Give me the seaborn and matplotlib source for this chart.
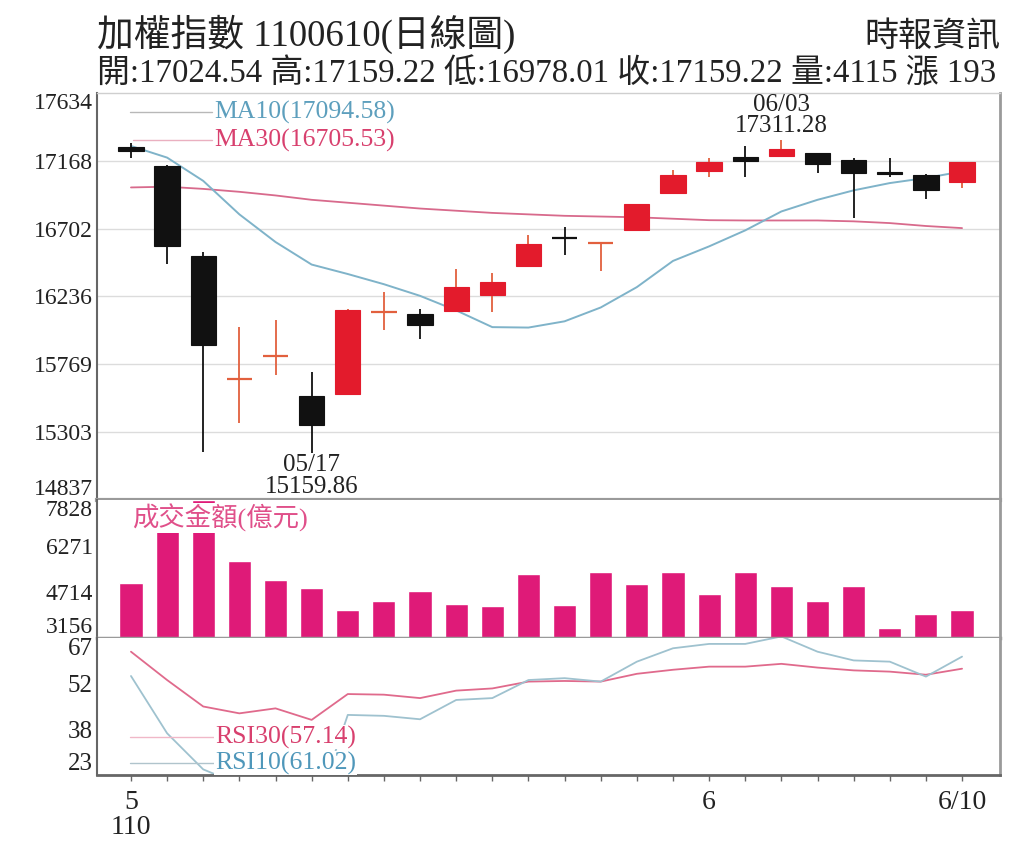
import numpy as np
import pandas as pd
import matplotlib
matplotlib.use('Agg')
import matplotlib.pyplot as plt
import seaborn as sns

# ---------------- data ----------------
days = ['05/10', '05/11', '05/12', '05/13', '05/14', '05/17', '05/18', '05/19',
        '05/20', '05/21', '05/24', '05/25', '05/26', '05/27', '05/28', '05/31',
        '06/01', '06/02', '06/03', '06/04', '06/07', '06/08', '06/09', '06/10']
opens = [17264, 17131, 16513, 15660, 15815, 15550, 15564, 16120, 16114, 16135, 16249, 16444,
         16645, 16590, 16692, 16948, 17097, 17191, 17202, 17219, 17173, 17092, 17070, 17024.54]
highs = [17292, 17140, 16542, 16027, 16073, 15717, 16150, 16267, 16148, 16423, 16398, 16657,
         16714, 16596, 16872, 17104, 17184, 17269, 17311.28, 17219, 17184, 17184, 17076, 17159.22]
lows = [17185, 16458, 15165, 15366, 15695, 15159.86, 15560, 16004, 15940, 16135, 16130, 16444,
        16520, 16410, 16692, 16939, 17054, 17054, 17202, 17081, 16772, 17054, 16903, 16978.01]
closes = [17236, 16583, 15902, 15670, 15827, 15354, 16146, 16130, 16040, 16302, 16338, 16595,
          16640, 16601, 16871, 17068, 17162, 17165, 17246, 17147, 17084, 17076, 16966, 17159.22]
ma10 = [17270, 17190, 17030, 16800, 16610, 16455, 16390, 16320, 16240, 16140, 16025, 16022,
        16065, 16160, 16300, 16480, 16580, 16690, 16820, 16900, 16965, 17015, 17050, 17094.58]
ma30 = [16985, 16990, 16975, 16955, 16930, 16900, 16880, 16860, 16840, 16825, 16810, 16800,
        16790, 16785, 16780, 16770, 16760, 16758, 16758, 16758, 16752, 16740, 16720, 16705.53]
turnover = [5013, 7300, 7828, 5755, 5126, 4841, 4119, 4404, 4758, 4301, 4256, 5332,
            4267, 5401, 4978, 5401, 4634, 5401, 4920, 4404, 4920, 3486, 3981, 4115]
rsi30 = [62.6, 53.5, 45.0, 42.8, 44.4, 40.7, 49.0, 48.8, 47.7, 50.1, 50.8, 53.0,
         53.2, 53.0, 55.5, 56.8, 57.8, 57.8, 58.7, 57.5, 56.6, 56.2, 55.2, 57.14]
rsi10 = [54.8, 36.4, 24.8, 20.0, 21.0, 8.0, 42.3, 42.0, 40.9, 47.1, 47.7, 53.5,
         54.1, 53.0, 59.4, 63.7, 65.1, 65.1, 67.5, 62.6, 59.8, 59.4, 54.6, 61.02]

price_ticks = [14837, 15303, 15769, 16236, 16702, 17168, 17634]
vol_ticks = [3156, 4714, 6271, 7828]
rsi_ticks = [23, 37.67, 52.33, 67]
rsi_tick_labels = ['23', '38', '52', '67']
x_tick_pos = [0, 16, 23]
x_tick_labels = ['5\n110', '6', '6/10']

title = '加權指數 1100610(日線圖)'
source = '時報資訊'
summary = '開:17024.54 高:17159.22 低:16978.01 收:17159.22 量:4115 漲 193'

# ---------------- style ----------------
sns.set_style('white')
plt.rcParams['font.family'] = ['Liberation Serif', 'Noto Sans CJK TC', 'DejaVu Sans']
plt.rcParams['axes.unicode_minus'] = False

RED = '#e31b2c'
RED_WICK = '#e2603e'
BLACK = '#111111'
MA10_C = '#7fb3c9'
MA30_C = '#d86a8c'
VOL_C = '#df1a78'
RSI30_C = '#e06a8c'
RSI10_C = '#9fc2cf'
TXT = '#222222'

df = pd.DataFrame({'i': np.arange(len(days)), 'day': days, 'open': opens, 'high': highs,
                   'low': lows, 'close': closes, 'ma10': ma10, 'ma30': ma30,
                   'turnover': turnover, 'rsi30': rsi30, 'rsi10': rsi10})

W, H = 1024, 865
fig = plt.figure(figsize=(W / 100, H / 100), dpi=100)
L, R = 97, 1000
ax1 = fig.add_axes([L / W, 1 - 500 / H, (R - L) / W, 407 / H])
ax2 = fig.add_axes([L / W, 1 - 638 / H, (R - L) / W, 138 / H], sharex=ax1)
ax3 = fig.add_axes([L / W, 1 - 775 / H, (R - L) / W, 137 / H], sharex=ax1)

# ---------------- price panel ----------------
for t in price_ticks[1:-1]:
    ax1.axhline(t, color='#dcdcdc', lw=1.0, zorder=0)

sns.lineplot(data=df, x='i', y='ma30', ax=ax1, color=MA30_C, lw=1.3, zorder=2)
sns.lineplot(data=df, x='i', y='ma10', ax=ax1, color=MA10_C, lw=1.4, zorder=2)

up = df['close'] >= df['open']
wick_colors = [RED_WICK if u else BLACK for u in up]
ax1.vlines(df['i'], df['low'], df['high'], colors=wick_colors, lw=1.3, zorder=3)
body = (df['close'] - df['open']).abs()
big = body >= 15
bcol = [RED if u else BLACK for u in up]
ax1.bar(df['i'][big], (df['close'] - df['open'])[big], bottom=df['open'][big], width=0.7,
        color=[c for c, b in zip(bcol, big) if b], edgecolor=[c for c, b in zip(bcol, big) if b],
        lw=0.8, zorder=4)
ax1.hlines(df['close'][~big], df['i'][~big] - 0.35, df['i'][~big] + 0.35,
           colors=[RED_WICK if u else BLACK for u, b in zip(up, big) if not b], lw=1.6, zorder=4)

ax1.set_ylim(price_ticks[0], price_ticks[-1])
ax1.set_yticks(price_ticks)
ax1.set_yticklabels([str(t) for t in price_ticks])
ax1.set_xlim(-0.94, 24.05)
ax1.set_xlabel('')
ax1.set_ylabel('')
ax1.tick_params(axis='y', length=0, pad=3, labelsize=17, labelcolor=TXT)
ax1.tick_params(axis='x', bottom=False, labelbottom=False)
labs = ax1.get_yticklabels()
labs[0].set_va('bottom')
labs[-1].set_va('top')

ax1.spines['top'].set_color('#cfcfcf'); ax1.spines['top'].set_linewidth(1.0)
ax1.spines['right'].set_color('#9a9a9a'); ax1.spines['right'].set_linewidth(2)
ax1.spines['left'].set_color('#666666'); ax1.spines['left'].set_linewidth(1.5)
ax1.spines['bottom'].set_color('#9a9a9a'); ax1.spines['bottom'].set_linewidth(3)

# MA legend
def px2ax_x(x):
    return (x - L) / (R - L)

ax1.plot([px2ax_x(130), px2ax_x(212)], [(500 - 112) / 407] * 2, transform=ax1.transAxes,
         color='#b8b8b8', lw=1.0)
ax1.plot([px2ax_x(133), px2ax_x(212)], [(500 - 140) / 407] * 2, transform=ax1.transAxes,
         color='#eab0c0', lw=1.0)
ax1.text(px2ax_x(214), (500 - 112) / 407, 'MA10(17094.58)', transform=ax1.transAxes,
         color='#5d9fbd', fontsize=18.5, va='center', ha='left')
ax1.text(px2ax_x(214), (500 - 140) / 407, 'MA30(16705.53)', transform=ax1.transAxes,
         color='#d8406e', fontsize=18.5, va='center', ha='left')

ax1.annotate('06/03\n17311.28', xy=(18, highs[18]), xytext=(0, 2), textcoords='offset points',
             ha='center', va='bottom', fontsize=18, color=TXT, linespacing=0.95,
             annotation_clip=False, zorder=10)
ax1.annotate('05/17\n15159.86', xy=(5, lows[5]), xytext=(0, -1), textcoords='offset points',
             ha='center', va='top', fontsize=18, color=TXT, linespacing=0.95,
             annotation_clip=False, zorder=10)

# ---------------- turnover panel ----------------
sns.barplot(data=df, x='i', y='turnover', ax=ax2, native_scale=True, color=VOL_C,
            saturation=1, width=0.64, zorder=2)
ax2.set_xlim(-0.94, 24.05)
ax2.set_ylim(vol_ticks[0], vol_ticks[-1])
ax2.set_yticks(vol_ticks)
ax2.set_yticklabels([str(t) for t in vol_ticks])
ax2.set_xlabel('')
ax2.set_ylabel('')
ax2.tick_params(axis='y', length=0, pad=3, labelsize=17, labelcolor=TXT)
ax2.tick_params(axis='x', bottom=False, labelbottom=False)
vl = ax2.get_yticklabels()
vl[0].set_va('bottom')
vl[-1].set_va('top')
ax2.spines['top'].set_visible(False)
ax2.spines['right'].set_color('#9a9a9a'); ax2.spines['right'].set_linewidth(2)
ax2.spines['left'].set_color('#666666'); ax2.spines['left'].set_linewidth(1.5)
ax2.spines['bottom'].set_color('#9a9a9a'); ax2.spines['bottom'].set_linewidth(2.5)
ax2.text(px2ax_x(132), (638 - 504) / 138, '成交金額(億元)', transform=ax2.transAxes,
         color='#e0508a', fontsize=19, va='top', ha='left', zorder=6,
         bbox=dict(facecolor='white', edgecolor='none', pad=0.5))

# ---------------- RSI panel ----------------
sns.lineplot(data=df, x='i', y='rsi30', ax=ax3, color=RSI30_C, lw=1.3, zorder=2)
sns.lineplot(data=df, x='i', y='rsi10', ax=ax3, color=RSI10_C, lw=1.3, zorder=2)
ax3.set_xlim(-0.94, 24.05)
ax3.set_ylim(rsi_ticks[0], rsi_ticks[-1])
ax3.set_yticks(rsi_ticks)
ax3.set_yticklabels(rsi_tick_labels)
ax3.set_xlabel('')
ax3.set_ylabel('')
ax3.tick_params(axis='y', length=0, pad=3, labelsize=18, labelcolor=TXT)
rl = ax3.get_yticklabels()
rl[0].set_va('bottom')
rl[-1].set_va('top')
ax3.set_xticks(df['i'])
ax3.set_xticklabels(['' for _ in days])
ax3.tick_params(axis='x', bottom=True, length=4, width=1, color='#666666', direction='out',
                pad=2)
sec = ax3.secondary_xaxis('bottom')
sec.set_xticks(x_tick_pos)
sec.set_xticklabels(x_tick_labels)
sec.tick_params(length=0, pad=11, labelsize=20, labelcolor=TXT)
for lab in sec.get_xticklabels():
    lab.set_linespacing(1.0)
sec.spines['bottom'].set_visible(False)
ax3.spines['top'].set_visible(False)
ax3.spines['right'].set_color('#9a9a9a'); ax3.spines['right'].set_linewidth(2)
ax3.spines['left'].set_color('#666666'); ax3.spines['left'].set_linewidth(1.5)
ax3.spines['bottom'].set_color('#666666'); ax3.spines['bottom'].set_linewidth(2)

ax3.plot([px2ax_x(130), px2ax_x(214)], [(775 - 737) / 137] * 2, transform=ax3.transAxes,
         color='#f0b8c8', lw=1.0, zorder=3)
ax3.plot([px2ax_x(130), px2ax_x(214)], [(775 - 763) / 137] * 2, transform=ax3.transAxes,
         color='#b0c4cc', lw=1.0, zorder=3)
ax3.text(px2ax_x(215), (775 - 737) / 137, 'RSI30(57.14)', transform=ax3.transAxes,
         color='#d8406e', fontsize=18.5, va='center', ha='left', zorder=6,
         bbox=dict(facecolor='white', edgecolor='none', pad=0.5))
ax3.text(px2ax_x(215), (775 - 763) / 137, 'RSI10(61.02)', transform=ax3.transAxes,
         color='#4f97ba', fontsize=18.5, va='center', ha='left', zorder=6,
         bbox=dict(facecolor='white', edgecolor='none', pad=0.5))

# ---------------- header ----------------
fig.text(L / W, 1 - 46 / H, title, fontsize=26.5, color=TXT, ha='left', va='baseline')
fig.text(R / W, 1 - 46 / H, source, fontsize=24.5, color=TXT, ha='right', va='baseline')
fig.text(L / W, 1 - 82 / H, summary, fontsize=23.7, color=TXT, ha='left', va='baseline')

fig.savefig('out.png', dpi=100, facecolor='white')
